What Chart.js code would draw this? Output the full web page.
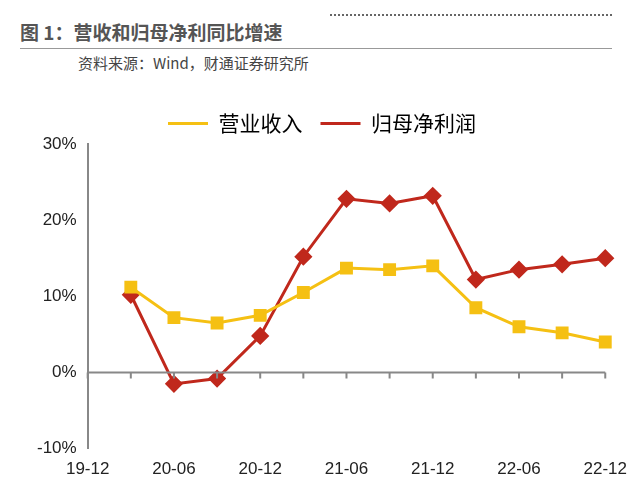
<!DOCTYPE html>
<html><head><meta charset="utf-8">
<script src="https://cdn.jsdelivr.net/npm/chart.js@4"></script>
<style>
body{margin:0;background:#fff;font-family:"Noto Sans CJK SC",sans-serif;}
#t{position:absolute;left:20px;top:18px;font-size:19px;font-weight:bold;color:#555;}
#line{position:absolute;left:330px;right:28px;top:14px;border-top:2px dotted #666;}
#line2{position:absolute;left:20px;right:28px;top:48px;border-top:1px solid #999;}
#s{position:absolute;left:78px;top:52px;font-size:15px;color:#444;}
#w{position:absolute;left:0;top:95px;width:630px;height:400px;}
</style></head><body>
<div id="t">图 1：营收和归母净利同比增速</div><div id="line"></div><div id="line2"></div>
<div id="s">资料来源：Wind，财通证券研究所</div>
<div id="w"><canvas id="c"></canvas></div>
<script>
const categories=["19-12","20-03","20-06","20-09","20-12","21-03","21-06","21-09","21-12","22-03","22-06","22-09","22-12"];
const revenue=[null,11.2,7.2,6.5,7.5,10.5,13.7,13.5,14.0,8.5,6.0,5.2,4.0];
const profit=[null,10.2,-1.5,-0.8,4.8,15.2,22.8,22.2,23.2,12.2,13.5,14.2,15.0];
const shownTicks=["19-12","20-06","20-12","21-06","21-12","22-06","22-12"];
const zeroAxis={id:'zeroAxis',afterDatasetsDraw(ch){const {ctx,chartArea:a,scales:{x,y}}=ch;const py=y.getPixelForValue(0);
ctx.save();ctx.strokeStyle='#888';ctx.lineWidth=2;ctx.beginPath();ctx.moveTo(a.left,py);ctx.lineTo(a.right,py);
for(let i=0;i<categories.length;i++){const px=x.getPixelForValue(i);ctx.moveTo(px,py);ctx.lineTo(px,py+6);}
ctx.stroke();ctx.restore();}};
new Chart(document.getElementById('c'),{type:'line',
data:{labels:categories,datasets:[
{label:'营业收入',data:revenue,borderColor:'#F5C013',backgroundColor:'#F5C013',borderWidth:3,pointStyle:'rect',pointRadius:7,pointHoverRadius:7},
{label:'归母净利润',data:profit,borderColor:'#C0281C',backgroundColor:'#C0281C',borderWidth:3,pointStyle:'rectRot',pointRadius:7,pointHoverRadius:7}]},
options:{responsive:true,maintainAspectRatio:false,animation:false,
layout:{padding:{left:34,right:20,bottom:12,top:0}},
plugins:{legend:{labels:{padding:18,boxWidth:40,boxHeight:3,font:{size:21,family:'Noto Sans CJK SC'},color:'#222',
generateLabels(ch){return ch.data.datasets.map((d,i)=>({text:d.label,fillStyle:d.backgroundColor,strokeStyle:d.borderColor,lineWidth:0,datasetIndex:i}));}}},tooltip:{enabled:false}},
scales:{x:{offset:false,grid:{display:false},border:{display:false},
ticks:{autoSkip:false,maxRotation:0,font:{size:17},color:'#222',callback(v){const l=categories[v];return shownTicks.includes(l)?l:'';}}},
y:{min:-10,max:30,grid:{display:false},border:{color:'#888',width:2},
ticks:{stepSize:10,font:{size:17},color:'#222',callback:v=>v+'%'}}}},plugins:[zeroAxis]});
</script></body></html>
